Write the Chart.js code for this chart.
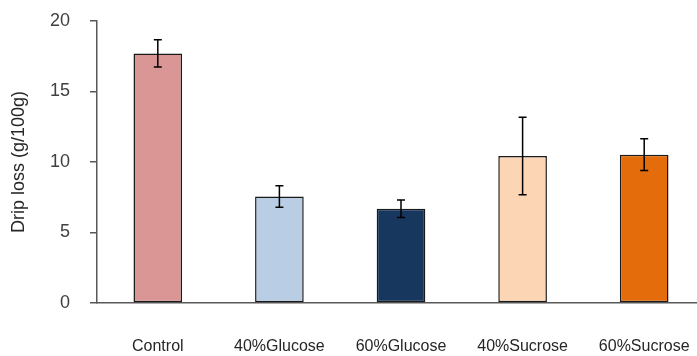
<!DOCTYPE html>
<html>
<head>
<meta charset="utf-8">
<script src="https://cdn.jsdelivr.net/npm/chart.js@4.4.0/dist/chart.umd.min.js"></script>
<style>
  html, body { margin: 0; padding: 0; background: #fff; overflow: hidden; }
  canvas { display: block; }
</style>
</head>
<body>
<canvas id="myChart" width="705" height="356"></canvas>
<script>
// data
const categories = ["Control", "40%Glucose", "60%Glucose", "40%Sucrose", "60%Sucrose"];
const dripLoss = [17.7, 7.55, 6.68, 10.42, 10.52];
const errors = [0.97, 0.76, 0.62, 2.75, 1.13];
const barColors = ["#D99694", "#B9CDE5", "#17375E", "#FCD5B5", "#E46C0A"];
const yTicks = [0, 5, 10, 15, 20];

const axisColor = "#595959";
const fontFamily = "'Liberation Sans', Arial, sans-serif";

// error bars drawn on top of the bars
const errorBars = {
  id: "errorBars",
  afterDatasetsDraw(chart) {
    const ctx = chart.ctx;
    const y = chart.scales.y;
    const meta = chart.getDatasetMeta(0);
    ctx.save();
    ctx.strokeStyle = "#000";
    ctx.lineWidth = 1.5;
    meta.data.forEach((bar, i) => {
      const top = y.getPixelForValue(dripLoss[i] + errors[i]);
      const bot = y.getPixelForValue(dripLoss[i] - errors[i]);
      const x = bar.x;
      ctx.beginPath();
      ctx.moveTo(x, top); ctx.lineTo(x, bot);
      ctx.moveTo(x - 4, top); ctx.lineTo(x + 4, top);
      ctx.moveTo(x - 4, bot); ctx.lineTo(x + 4, bot);
      ctx.stroke();
    });
    ctx.restore();
  }
};

let ctx = document.getElementById("myChart").getContext("2d");
let myChart = new Chart(ctx, {
  type: "bar",
  data: {
    labels: categories,
    datasets: [{
      data: dripLoss,
      backgroundColor: barColors,
      borderColor: "#1a1a1a",
      borderWidth: 1.5,
      borderSkipped: false,
      barPercentage: 0.4,
      categoryPercentage: 1
    }]
  },
  options: {
    responsive: false,
    animation: false,
    layout: { padding: { top: 21, left: 0, right: 0, bottom: 0 } },
    plugins: { legend: { display: false }, tooltip: { enabled: false } },
    scales: {
      x: {
        grid: { display: false },
        border: { display: true, color: axisColor, width: 1.5 },
        ticks: { color: "#262626", padding: 26, font: { family: fontFamily, size: 16 }, maxRotation: 0 },
        afterFit: (s) => { s.height = 53; s.paddingLeft = 0; s.paddingRight = 0; }
      },
      y: {
        min: 0,
        max: 20,
        afterBuildTicks: (s) => { s.ticks = yTicks.map(v => ({ value: v })); },
        grid: { drawOnChartArea: false, drawTicks: true, tickLength: 7, color: axisColor, lineWidth: 1.5 },
        border: { display: true, color: axisColor, width: 1.5 },
        ticks: { color: "#404040", padding: 20, font: { family: fontFamily, size: 18 } },
        title: { display: true, text: "Drip loss (g/100g)", color: "#262626", font: { family: fontFamily, size: 18 }, padding: { top: 8, bottom: 0 } },
        afterFit: (s) => { s.width = 97; s.paddingTop = 0; s.paddingBottom = 0; }
      }
    }
  },
  plugins: [errorBars]
});
</script>
</body>
</html>
